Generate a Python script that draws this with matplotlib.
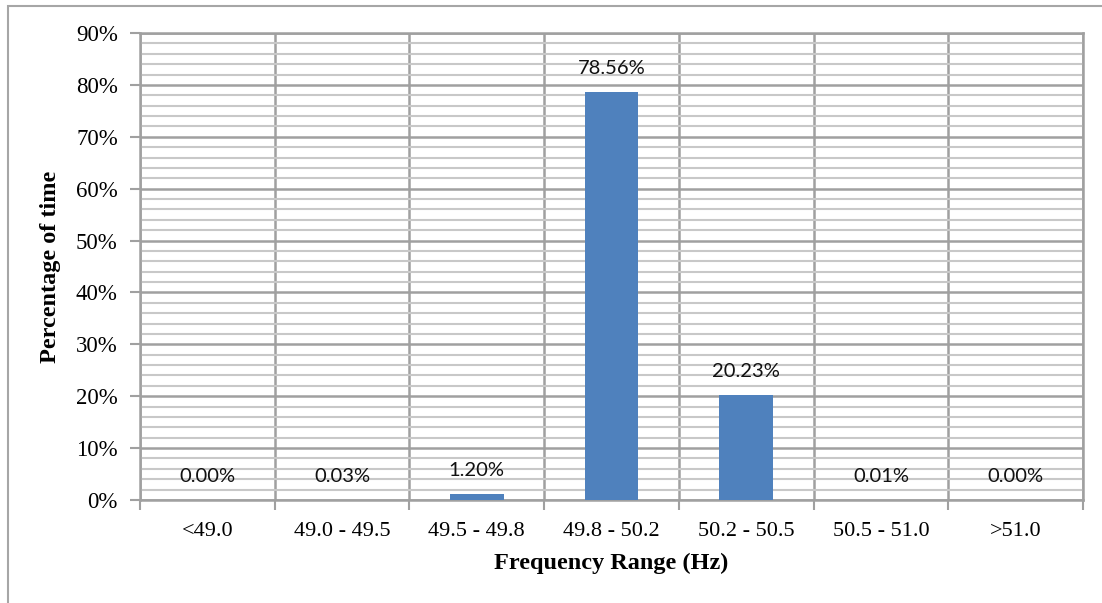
import numpy as np
import matplotlib.pyplot as plt
from matplotlib.patches import Rectangle
from matplotlib.ticker import MultipleLocator, PercentFormatter

ranges = ["<49.0", "49.0 - 49.5", "49.5 - 49.8", "49.8 - 50.2",
          "50.2 - 50.5", "50.5 - 51.0", ">51.0"]
share = [0.00, 0.03, 1.20, 78.56, 20.23, 0.01, 0.00]

BLUE = "#4F81BD"
SERIF = "Liberation Serif"


def main():
    fig = plt.figure(figsize=(11.02, 6.03), dpi=100)
    ax = fig.add_axes([140 / 1102, 1 - 500 / 603, 943 / 1102, 467 / 603])

    # chart border (left and top edges visible)
    fig.patches.append(Rectangle((8 / 1102, -0.05), 1.2, 1 - 6 / 603 + 0.05,
                                 transform=fig.transFigure, fill=False,
                                 edgecolor="#A6A6A6", linewidth=1.5))

    x = np.arange(len(ranges))
    ax.bar(x, share, width=0.4, color=BLUE, zorder=3)

    for xi, v in zip(x, share):
        ax.annotate(f"{v:.2f}%", (xi, v), xytext=(0, 17),
                    textcoords="offset points", ha="center", va="center",
                    fontsize=14.5, family="Lato", color="#111111")

    ax.set_xlim(-0.5, len(ranges) - 0.5)
    ax.set_ylim(0, 90)
    ax.yaxis.set_major_locator(MultipleLocator(10))
    ax.yaxis.set_minor_locator(MultipleLocator(2))
    ax.yaxis.set_major_formatter(PercentFormatter(decimals=0))

    # category boundaries carry the vertical grid and x ticks
    ax.set_xticks(np.arange(len(ranges) + 1) - 0.5)
    ax.set_xticklabels([])
    ax.set_xticks(x, minor=True)
    ax.set_xticklabels(ranges, minor=True, fontsize=16, family=SERIF)
    ax.tick_params(axis="x", which="minor", length=0, pad=16)
    ax.tick_params(axis="x", which="major", length=7, width=1.5,
                   color="#A0A0A0")
    ax.tick_params(axis="y", which="major", length=7, width=1.5,
                   color="#A0A0A0", labelsize=16.5, pad=9)
    ax.tick_params(axis="y", which="minor", length=0)
    for lab in ax.get_yticklabels():
        lab.set_family(SERIF)

    ax.grid(axis="y", which="minor", color="#C8C8C8", linewidth=1.5, zorder=0)
    ax.grid(axis="y", which="major", color="#A0A0A0", linewidth=1.8, zorder=1)
    ax.grid(axis="x", which="major", color="#A0A0A0", linewidth=1.8, zorder=1)
    for s in ax.spines.values():
        s.set_color("#A0A0A0")
        s.set_linewidth(1.8)

    ax.set_xlabel("Frequency Range (Hz)", fontsize=17.5, fontweight="bold",
                  family=SERIF, labelpad=8)
    ax.set_ylabel("Percentage of time", fontsize=17.5, fontweight="bold",
                  family=SERIF, labelpad=11)

    fig.savefig("out.png", dpi=100)


if __name__ == "__main__":
    main()
